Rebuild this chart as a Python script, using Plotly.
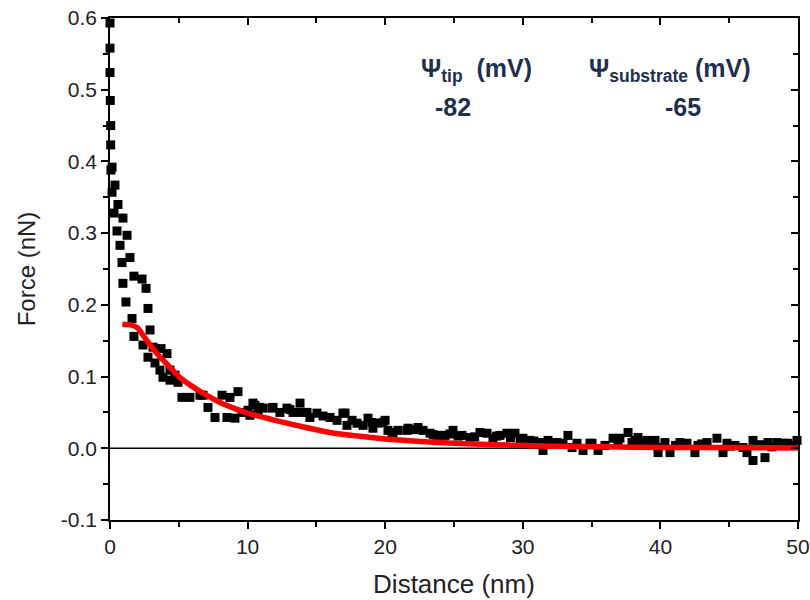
import plotly.graph_objects as go

# Measured force-distance data (distance in nm, force in nN)
distance_nm = [
    0.0, 0.0, 0.0, 0.02, 0.05, 0.05, 0.15, 0.07, 0.36, 0.15,
    0.58, 0.29, 0.94, 0.51, 1.24, 0.73, 0.87, 1.45, 1.74, 2.33,
    0.94, 2.62, 1.16, 2.76, 1.60, 2.91, 1.74, 2.40, 3.13, 3.71,
    2.76, 4.14, 3.27, 3.63, 4.36, 3.85, 4.36, 4.94, 4.72, 5.23,
    5.81, 6.54, 7.12, 6.76, 7.63, 8.50, 9.08, 9.59, 8.14, 8.72,
    9.30, 10.03, 10.17, 10.54, 10.76, 11.12, 11.77, 12.35, 12.86, 13.30,
    13.81, 14.32, 15.04, 15.48, 15.99, 16.50, 16.93, 17.22, 17.59, 17.95,
    18.39, 18.75, 19.11, 19.48, 19.99, 20.20, 20.57, 20.93, 21.66, 22.38,
    22.75, 23.26, 23.76, 24.35, 24.93, 25.58, 26.16, 26.89, 27.40, 27.83,
    28.34, 28.85, 29.43, 30.01, 30.52, 31.25, 31.47, 31.83, 32.12, 32.49,
    32.92, 33.28, 33.58, 33.94, 34.38, 34.88, 35.47, 35.97, 36.56, 36.92,
    37.65, 37.94, 38.37, 38.74, 39.24, 39.61, 39.83, 40.33, 40.70, 41.42,
    41.93, 42.51, 42.73, 43.39, 44.11, 44.55, 44.84, 45.42, 46.00, 46.29,
    46.73, 46.73, 47.60, 47.82, 48.47, 48.91, 49.27, 49.93,
    10.39, 10.90, 11.85, 13.08, 13.59, 14.17, 14.53, 17.08, 19.04, 19.84,
    20.49, 21.58, 22.10, 23.50, 24.70, 25.30, 26.50, 28.10, 29.10, 29.80,
    30.80, 35.03, 37.06, 38.15, 39.03, 39.83, 41.10, 43.00, 45.10, 47.20,
    48.10, 49.60,
]
force_nN = [
    0.593, 0.558, 0.524, 0.485, 0.450, 0.423, 0.392, 0.388, 0.367, 0.357,
    0.340, 0.328, 0.321, 0.303, 0.297, 0.283, 0.259, 0.266, 0.240, 0.236,
    0.230, 0.223, 0.204, 0.195, 0.181, 0.165, 0.156, 0.144, 0.141, 0.139,
    0.127, 0.132, 0.119, 0.109, 0.109, 0.099, 0.095, 0.092, 0.102, 0.071,
    0.071, 0.074, 0.057, 0.074, 0.043, 0.043, 0.042, 0.050, 0.074, 0.071,
    0.079, 0.053, 0.046, 0.060, 0.050, 0.056, 0.056, 0.050, 0.056, 0.050,
    0.063, 0.050, 0.049, 0.045, 0.043, 0.039, 0.049, 0.032, 0.039, 0.035,
    0.032, 0.042, 0.028, 0.035, 0.039, 0.025, 0.022, 0.025, 0.028, 0.029,
    0.025, 0.021, 0.018, 0.018, 0.025, 0.018, 0.015, 0.022, 0.021, 0.014,
    0.018, 0.021, 0.021, 0.014, 0.011, 0.008, -0.003, 0.011, 0.008, 0.008,
    0.007, 0.018, 0.001, 0.007, -0.003, 0.007, -0.003, 0.004, 0.014, 0.007,
    0.022, 0.008, 0.015, 0.007, 0.008, 0.011, 0.001, 0.008, -0.006, 0.008,
    0.007, -0.006, 0.004, 0.008, 0.014, -0.006, 0.007, 0.004, 0.001, -0.006,
    0.011, -0.017, -0.013, 0.008, 0.008, 0.007, 0.007, 0.011,
    0.063, 0.057, 0.057, 0.054, 0.050, 0.050, 0.043, 0.049, 0.036, 0.036,
    0.022, 0.025, 0.026, 0.019, 0.020, 0.017, 0.016, 0.017, 0.015, 0.012,
    0.010, 0.007, 0.014, 0.011, 0.011, -0.006, 0.004, 0.006, 0.003, 0.005,
    0.002, 0.004,
]

# Fitted DLVO force curve
fit_distance_nm = [0.9, 1.5, 2.0, 2.5, 3.0, 3.5, 4.0, 5.0, 6.0, 7.0, 8.0, 9.0, 10.0,
                   12.0, 14.0, 16.0, 18.0, 20.0, 22.0, 25.0, 28.0, 32.0, 36.0, 40.0,
                   45.0, 50.0]
fit_force_nN = [0.173, 0.172, 0.168, 0.155, 0.142, 0.130, 0.120, 0.100, 0.086, 0.074,
                0.064, 0.056, 0.049, 0.039, 0.030, 0.022, 0.017, 0.013, 0.010, 0.007,
                0.005, 0.003, 0.002, 0.001, 0.001, 0.0005]

x_ticks = [0, 10, 20, 30, 40, 50]
y_ticks = [-0.1, 0.0, 0.1, 0.2, 0.3, 0.4, 0.5, 0.6]
y_tick_text = ["-0.1", "0.0", "0.1", "0.2", "0.3", "0.4", "0.5", "0.6"]

psi_tip_mV = -82
psi_substrate_mV = -65

x_range = [0, 50]
y_range = [-0.1, 0.6]

font_family = "Liberation Sans, Arial, sans-serif"
label_color = "#1f2f4f"

fig = go.Figure()

fig.add_trace(go.Scatter(
    x=distance_nm, y=force_nN, mode="markers",
    marker=dict(symbol="square", size=9, color="black", line=dict(width=0)),
    cliponaxis=False, showlegend=False,
))
fig.add_trace(go.Scatter(
    x=fit_distance_nm, y=fit_force_nN, mode="lines",
    line=dict(color="#ff0000", width=5.5, shape="spline", smoothing=0.6),
    showlegend=False,
))
# empty trace that carries the top/right framing axes
fig.add_trace(go.Scatter(x=x_range, y=y_range, xaxis="x2", yaxis="y2",
                         mode="markers", marker=dict(opacity=0),
                         hoverinfo="skip", showlegend=False))

fig.add_shape(type="line", xref="x", yref="y", x0=x_range[0], x1=x_range[1],
              y0=0, y1=0, line=dict(color="black", width=1.5), layer="below")

axis_common = dict(showgrid=False, zeroline=False, showline=True,
                   linecolor="black", linewidth=1.5, ticklen=7, tickwidth=1.5,
                   tickcolor="black", automargin=False)

fig.update_layout(
    width=810, height=600,
    margin=dict(l=110, r=12, t=18, b=80),
    paper_bgcolor="white", plot_bgcolor="white",
    font=dict(family=font_family, color="#222222"),
    xaxis=dict(range=x_range, tickvals=x_ticks, ticks="outside",
               tickfont=dict(size=21),
               title=dict(text="Distance (nm)", font=dict(size=26), standoff=18),
               minor=dict(dtick=5, ticks="outside", ticklen=5, tickwidth=1.5,
                          tickcolor="black"),
               **axis_common),
    yaxis=dict(range=y_range, tickvals=y_ticks, ticktext=y_tick_text,
               ticks="outside", tickfont=dict(size=21),
               title=dict(text="Force (nN)", font=dict(size=24), standoff=18),
               minor=dict(dtick=0.05, ticks="outside", ticklen=5, tickwidth=1.5,
                          tickcolor="black"),
               **axis_common),
    xaxis2=dict(range=x_range, overlaying="x", side="top", anchor="y2",
                tickvals=x_ticks, ticks="inside", showticklabels=False,
                minor=dict(dtick=5, ticks="inside", ticklen=5, tickwidth=1.5,
                           tickcolor="black"),
                **axis_common),
    yaxis2=dict(range=y_range, overlaying="y", side="right", anchor="x2",
                tickvals=y_ticks, ticks="inside", showticklabels=False,
                minor=dict(dtick=0.05, ticks="inside", ticklen=5, tickwidth=1.5,
                           tickcolor="black"),
                **axis_common),
)

ann_font = dict(family=font_family, size=25, color=label_color)
fig.add_annotation(xref="paper", yref="paper", x=0.533, y=0.896,
                   text="<b>Ψ<sub>tip</sub>  (mV)</b>", showarrow=False,
                   font=ann_font, xanchor="center", yanchor="middle")
fig.add_annotation(xref="paper", yref="paper", x=0.499, y=0.823,
                   text=f"<b>{psi_tip_mV}</b>", showarrow=False,
                   font=ann_font, xanchor="center", yanchor="middle")
fig.add_annotation(xref="paper", yref="paper", x=0.814, y=0.896,
                   text="<b>Ψ<sub>substrate</sub> (mV)</b>", showarrow=False,
                   font=ann_font, xanchor="center", yanchor="middle")
fig.add_annotation(xref="paper", yref="paper", x=0.833, y=0.823,
                   text=f"<b>{psi_substrate_mV}</b>", showarrow=False,
                   font=ann_font, xanchor="center", yanchor="middle")

fig.write_html("out.html")
